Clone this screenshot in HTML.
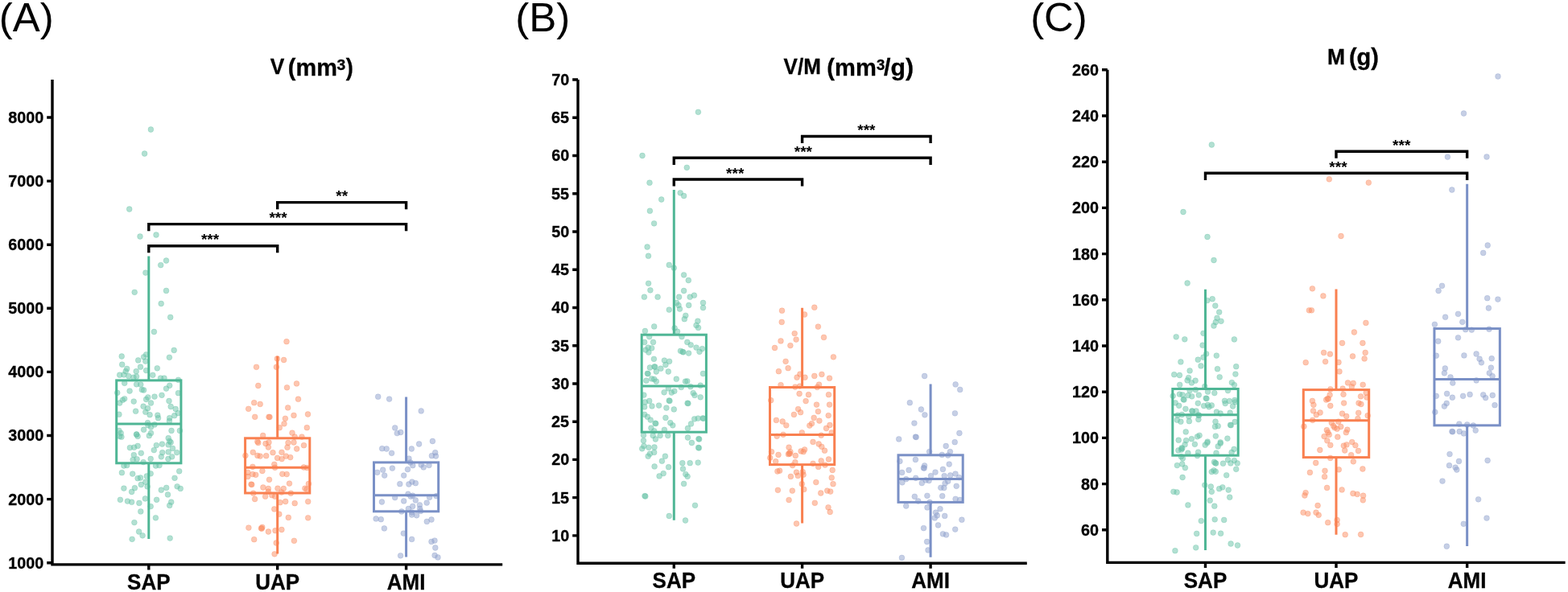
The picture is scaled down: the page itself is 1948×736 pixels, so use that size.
<!DOCTYPE html>
<html lang="en"><head><meta charset="utf-8"><title>Figure</title>
<style>html,body{margin:0;padding:0;background:#fff}body{width:1948px;height:736px;overflow:hidden}svg{display:block}</style>
</head><body>
<svg width="1948" height="736" viewBox="0 0 1948 736" font-family="'Liberation Sans', Arial, Helvetica, sans-serif" font-kerning="none" style="font-kerning:none">
<rect width="1948" height="736" fill="#fff"/>
<g id="panelA">
<g fill="#66c2a5" fill-opacity="0.5" stroke="#66c2a5" stroke-opacity="0.45" stroke-width="0.7">
<circle cx="187.4" cy="161.0" r="3.4"/><circle cx="179.6" cy="191.0" r="3.4"/><circle cx="160.7" cy="260.0" r="3.4"/><circle cx="174.0" cy="294.0" r="3.4"/><circle cx="194.0" cy="292.0" r="3.4"/><circle cx="206.5" cy="324.0" r="3.4"/><circle cx="199.7" cy="329.6" r="3.4"/><circle cx="180.9" cy="339.1" r="3.4"/><circle cx="167.2" cy="363.3" r="3.4"/><circle cx="206.5" cy="361.4" r="3.4"/><circle cx="200.2" cy="377.5" r="3.4"/><circle cx="211.7" cy="394.4" r="3.4"/><circle cx="191.4" cy="412.5" r="3.4"/><circle cx="216.2" cy="435.4" r="3.4"/><circle cx="210.4" cy="444.3" r="3.4"/><circle cx="151.2" cy="443.0" r="3.4"/><circle cx="151.7" cy="453.2" r="3.4"/><circle cx="171.7" cy="447.9" r="3.4"/><circle cx="178.6" cy="443.8" r="3.4"/><circle cx="181.6" cy="440.8" r="3.4"/><circle cx="180.8" cy="449.1" r="3.4"/><circle cx="174.5" cy="456.2" r="3.4"/><circle cx="195.3" cy="457.8" r="3.4"/><circle cx="157.7" cy="458.4" r="3.4"/><circle cx="156.2" cy="461.7" r="3.4"/><circle cx="169.2" cy="461.7" r="3.4"/><circle cx="181.6" cy="460.6" r="3.4"/><circle cx="148.7" cy="466.2" r="3.4"/><circle cx="153.9" cy="465.9" r="3.4"/><circle cx="159.9" cy="467.7" r="3.4"/><circle cx="165.9" cy="469.2" r="3.4"/><circle cx="169.6" cy="468.1" r="3.4"/><circle cx="189.8" cy="466.3" r="3.4"/><circle cx="199.5" cy="470.1" r="3.4"/><circle cx="204.0" cy="470.1" r="3.4"/><circle cx="221.5" cy="472.3" r="3.4"/><circle cx="154.7" cy="476.3" r="3.4"/><circle cx="169.6" cy="477.8" r="3.4"/><circle cx="174.8" cy="478.1" r="3.4"/><circle cx="176.3" cy="484.6" r="3.4"/><circle cx="178.6" cy="485.0" r="3.4"/><circle cx="161.1" cy="486.1" r="3.4"/><circle cx="145.7" cy="488.3" r="3.4"/><circle cx="210.7" cy="479.3" r="3.4"/><circle cx="206.5" cy="483.1" r="3.4"/><circle cx="221.5" cy="488.7" r="3.4"/><circle cx="201.0" cy="491.3" r="3.4"/><circle cx="192.0" cy="493.1" r="3.4"/><circle cx="183.8" cy="494.0" r="3.4"/><circle cx="181.6" cy="496.5" r="3.4"/><circle cx="154.7" cy="495.8" r="3.4"/><circle cx="152.4" cy="497.3" r="3.4"/><circle cx="148.7" cy="501.0" r="3.4"/><circle cx="166.2" cy="499.1" r="3.4"/><circle cx="187.5" cy="501.0" r="3.4"/><circle cx="210.0" cy="498.5" r="3.4"/><circle cx="178.1" cy="505.2" r="3.4"/><circle cx="183.5" cy="507.7" r="3.4"/><circle cx="212.2" cy="505.5" r="3.4"/><circle cx="218.2" cy="508.5" r="3.4"/><circle cx="180.8" cy="512.2" r="3.4"/><circle cx="168.6" cy="511.2" r="3.4"/><circle cx="186.1" cy="515.7" r="3.4"/><circle cx="147.9" cy="515.2" r="3.4"/><circle cx="195.8" cy="516.2" r="3.4"/><circle cx="196.5" cy="519.7" r="3.4"/><circle cx="221.2" cy="513.7" r="3.4"/><circle cx="216.7" cy="516.7" r="3.4"/><circle cx="210.7" cy="519.7" r="3.4"/><circle cx="210.4" cy="523.4" r="3.4"/><circle cx="183.5" cy="525.7" r="3.4"/><circle cx="183.8" cy="528.7" r="3.4"/><circle cx="192.0" cy="527.9" r="3.4"/><circle cx="187.5" cy="530.9" r="3.4"/><circle cx="178.6" cy="534.2" r="3.4"/><circle cx="147.9" cy="535.4" r="3.4"/><circle cx="150.2" cy="538.4" r="3.4"/><circle cx="213.0" cy="535.4" r="3.4"/><circle cx="223.4" cy="535.4" r="3.4"/><circle cx="169.6" cy="539.9" r="3.4"/><circle cx="187.5" cy="538.4" r="3.4"/><circle cx="148.7" cy="542.4" r="3.4"/><circle cx="150.9" cy="543.2" r="3.4"/><circle cx="169.6" cy="540.2" r="3.4"/><circle cx="171.1" cy="542.4" r="3.4"/><circle cx="185.3" cy="541.7" r="3.4"/><circle cx="209.2" cy="544.7" r="3.4"/><circle cx="210.7" cy="548.4" r="3.4"/><circle cx="212.2" cy="549.9" r="3.4"/><circle cx="209.2" cy="552.9" r="3.4"/><circle cx="201.4" cy="552.1" r="3.4"/><circle cx="194.3" cy="553.6" r="3.4"/><circle cx="171.1" cy="554.4" r="3.4"/><circle cx="166.6" cy="556.2" r="3.4"/><circle cx="161.4" cy="556.6" r="3.4"/><circle cx="214.5" cy="557.4" r="3.4"/><circle cx="191.3" cy="559.6" r="3.4"/><circle cx="201.7" cy="562.6" r="3.4"/><circle cx="209.2" cy="561.9" r="3.4"/><circle cx="219.7" cy="562.6" r="3.4"/><circle cx="175.3" cy="563.3" r="3.4"/><circle cx="166.3" cy="565.6" r="3.4"/><circle cx="200.3" cy="567.8" r="3.4"/><circle cx="213.7" cy="567.8" r="3.4"/><circle cx="208.9" cy="570.5" r="3.4"/><circle cx="165.1" cy="571.6" r="3.4"/><circle cx="170.1" cy="570.8" r="3.4"/><circle cx="187.2" cy="570.5" r="3.4"/><circle cx="178.1" cy="574.6" r="3.4"/><circle cx="153.9" cy="579.0" r="3.4"/><circle cx="157.7" cy="578.6" r="3.4"/><circle cx="193.5" cy="579.0" r="3.4"/><circle cx="198.0" cy="578.6" r="3.4"/><circle cx="151.4" cy="587.7" r="3.4"/><circle cx="164.7" cy="589.1" r="3.4"/><circle cx="222.7" cy="585.8" r="3.4"/><circle cx="187.2" cy="588.8" r="3.4"/><circle cx="182.3" cy="592.0" r="3.4"/><circle cx="171.1" cy="594.7" r="3.4"/><circle cx="174.5" cy="594.0" r="3.4"/><circle cx="217.0" cy="594.3" r="3.4"/><circle cx="180.8" cy="599.2" r="3.4"/><circle cx="175.3" cy="602.5" r="3.4"/><circle cx="183.1" cy="604.9" r="3.4"/><circle cx="153.9" cy="607.1" r="3.4"/><circle cx="167.4" cy="606.7" r="3.4"/><circle cx="163.6" cy="611.5" r="3.4"/><circle cx="220.1" cy="604.8" r="3.4"/><circle cx="224.2" cy="607.4" r="3.4"/><circle cx="206.7" cy="606.4" r="3.4"/><circle cx="200.3" cy="609.2" r="3.4"/><circle cx="208.5" cy="614.9" r="3.4"/><circle cx="149.4" cy="621.3" r="3.4"/><circle cx="158.4" cy="623.1" r="3.4"/><circle cx="163.6" cy="624.2" r="3.4"/><circle cx="172.9" cy="625.4" r="3.4"/><circle cx="180.4" cy="619.9" r="3.4"/><circle cx="194.6" cy="621.3" r="3.4"/><circle cx="212.7" cy="624.2" r="3.4"/><circle cx="210.7" cy="628.4" r="3.4"/><circle cx="187.2" cy="629.6" r="3.4"/><circle cx="174.8" cy="635.9" r="3.4"/><circle cx="193.4" cy="643.8" r="3.4"/><circle cx="166.9" cy="649.6" r="3.4"/><circle cx="172.6" cy="661.0" r="3.4"/><circle cx="177.1" cy="665.8" r="3.4"/><circle cx="164.1" cy="670.3" r="3.4"/><circle cx="211.2" cy="669.1" r="3.4"/>
</g>
<g fill="#fc8d62" fill-opacity="0.5" stroke="#fc8d62" stroke-opacity="0.45" stroke-width="0.7">
<circle cx="356.0" cy="424.7" r="3.4"/><circle cx="344.4" cy="445.9" r="3.4"/><circle cx="352.6" cy="447.5" r="3.4"/><circle cx="318.5" cy="456.3" r="3.4"/><circle cx="343.4" cy="456.3" r="3.4"/><circle cx="320.8" cy="479.5" r="3.4"/><circle cx="368.5" cy="476.9" r="3.4"/><circle cx="356.5" cy="481.8" r="3.4"/><circle cx="370.5" cy="496.2" r="3.4"/><circle cx="315.7" cy="500.7" r="3.4"/><circle cx="323.2" cy="502.4" r="3.4"/><circle cx="308.7" cy="508.3" r="3.4"/><circle cx="357.7" cy="506.9" r="3.4"/><circle cx="316.7" cy="518.3" r="3.4"/><circle cx="334.0" cy="518.3" r="3.4"/><circle cx="335.0" cy="518.5" r="3.4"/><circle cx="365.0" cy="516.4" r="3.4"/><circle cx="382.5" cy="515.0" r="3.4"/><circle cx="354.4" cy="520.3" r="3.4"/><circle cx="353.0" cy="526.8" r="3.4"/><circle cx="347.3" cy="531.7" r="3.4"/><circle cx="381.3" cy="531.7" r="3.4"/><circle cx="363.0" cy="538.2" r="3.4"/><circle cx="326.7" cy="541.5" r="3.4"/><circle cx="366.2" cy="543.1" r="3.4"/><circle cx="375.0" cy="543.1" r="3.4"/><circle cx="319.8" cy="549.0" r="3.4"/><circle cx="320.8" cy="550.5" r="3.4"/><circle cx="330.0" cy="551.5" r="3.4"/><circle cx="334.0" cy="549.9" r="3.4"/><circle cx="333.4" cy="556.0" r="3.4"/><circle cx="358.0" cy="550.5" r="3.4"/><circle cx="365.0" cy="550.0" r="3.4"/><circle cx="377.5" cy="553.7" r="3.4"/><circle cx="357.0" cy="556.2" r="3.4"/><circle cx="368.7" cy="558.0" r="3.4"/><circle cx="314.3" cy="562.3" r="3.4"/><circle cx="339.0" cy="562.7" r="3.4"/><circle cx="350.0" cy="562.3" r="3.4"/><circle cx="304.9" cy="566.4" r="3.4"/><circle cx="319.9" cy="566.4" r="3.4"/><circle cx="323.2" cy="567.1" r="3.4"/><circle cx="330.7" cy="566.7" r="3.4"/><circle cx="344.6" cy="569.4" r="3.4"/><circle cx="350.1" cy="570.6" r="3.4"/><circle cx="355.3" cy="567.1" r="3.4"/><circle cx="360.7" cy="568.6" r="3.4"/><circle cx="340.8" cy="577.3" r="3.4"/><circle cx="341.6" cy="581.3" r="3.4"/><circle cx="313.9" cy="580.3" r="3.4"/><circle cx="377.4" cy="581.0" r="3.4"/><circle cx="381.5" cy="581.6" r="3.4"/><circle cx="307.9" cy="587.3" r="3.4"/><circle cx="313.9" cy="589.6" r="3.4"/><circle cx="317.7" cy="590.3" r="3.4"/><circle cx="325.9" cy="585.5" r="3.4"/><circle cx="307.9" cy="592.5" r="3.4"/><circle cx="350.8" cy="589.3" r="3.4"/><circle cx="356.2" cy="589.6" r="3.4"/><circle cx="334.5" cy="596.3" r="3.4"/><circle cx="359.5" cy="601.1" r="3.4"/><circle cx="383.4" cy="601.5" r="3.4"/><circle cx="326.9" cy="606.0" r="3.4"/><circle cx="333.3" cy="607.5" r="3.4"/><circle cx="345.0" cy="607.2" r="3.4"/><circle cx="352.3" cy="607.5" r="3.4"/><circle cx="378.9" cy="607.2" r="3.4"/><circle cx="381.2" cy="608.2" r="3.4"/><circle cx="314.7" cy="613.2" r="3.4"/><circle cx="329.6" cy="617.2" r="3.4"/><circle cx="333.3" cy="611.2" r="3.4"/><circle cx="337.8" cy="615.7" r="3.4"/><circle cx="341.6" cy="617.2" r="3.4"/><circle cx="349.8" cy="612.0" r="3.4"/><circle cx="361.3" cy="613.2" r="3.4"/><circle cx="316.6" cy="620.5" r="3.4"/><circle cx="348.0" cy="624.7" r="3.4"/><circle cx="354.7" cy="623.5" r="3.4"/><circle cx="366.2" cy="625.7" r="3.4"/><circle cx="382.7" cy="623.6" r="3.4"/><circle cx="340.8" cy="632.9" r="3.4"/><circle cx="346.8" cy="639.2" r="3.4"/><circle cx="358.3" cy="643.4" r="3.4"/><circle cx="382.7" cy="643.8" r="3.4"/><circle cx="312.0" cy="602.1" r="3.4"/><circle cx="312.8" cy="602.5" r="3.4"/><circle cx="308.9" cy="656.1" r="3.4"/><circle cx="325.8" cy="655.5" r="3.4"/><circle cx="333.4" cy="661.0" r="3.4"/><circle cx="342.0" cy="659.7" r="3.4"/><circle cx="349.9" cy="658.5" r="3.4"/><circle cx="315.7" cy="670.7" r="3.4"/><circle cx="343.2" cy="675.0" r="3.4"/><circle cx="365.4" cy="672.3" r="3.4"/><circle cx="341.1" cy="688.8" r="3.4"/><circle cx="324.4" cy="656.8" r="3.4"/><circle cx="325.2" cy="657.2" r="3.4"/>
</g>
<g fill="#8da0cb" fill-opacity="0.5" stroke="#8da0cb" stroke-opacity="0.45" stroke-width="0.7">
<circle cx="469.7" cy="493.2" r="3.4"/><circle cx="483.6" cy="496.1" r="3.4"/><circle cx="523.2" cy="510.9" r="3.4"/><circle cx="490.7" cy="531.9" r="3.4"/><circle cx="493.3" cy="538.6" r="3.4"/><circle cx="497.8" cy="537.5" r="3.4"/><circle cx="537.4" cy="548.5" r="3.4"/><circle cx="520.6" cy="552.0" r="3.4"/><circle cx="474.7" cy="557.7" r="3.4"/><circle cx="480.2" cy="558.0" r="3.4"/><circle cx="511.3" cy="558.0" r="3.4"/><circle cx="486.6" cy="563.3" r="3.4"/><circle cx="540.7" cy="562.7" r="3.4"/><circle cx="536.4" cy="566.7" r="3.4"/><circle cx="541.5" cy="567.0" r="3.4"/><circle cx="508.0" cy="570.1" r="3.4"/><circle cx="509.8" cy="574.9" r="3.4"/><circle cx="512.8" cy="578.7" r="3.4"/><circle cx="523.2" cy="577.9" r="3.4"/><circle cx="526.2" cy="580.9" r="3.4"/><circle cx="533.0" cy="578.4" r="3.4"/><circle cx="487.4" cy="582.1" r="3.4"/><circle cx="475.7" cy="584.2" r="3.4"/><circle cx="506.5" cy="583.6" r="3.4"/><circle cx="468.7" cy="587.3" r="3.4"/><circle cx="477.7" cy="591.1" r="3.4"/><circle cx="501.7" cy="591.1" r="3.4"/><circle cx="496.8" cy="601.7" r="3.4"/><circle cx="507.9" cy="602.0" r="3.4"/><circle cx="511.9" cy="599.1" r="3.4"/><circle cx="516.3" cy="600.7" r="3.4"/><circle cx="507.0" cy="614.2" r="3.4"/><circle cx="510.3" cy="617.2" r="3.4"/><circle cx="512.7" cy="616.2" r="3.4"/><circle cx="490.7" cy="618.6" r="3.4"/><circle cx="533.6" cy="618.3" r="3.4"/><circle cx="542.1" cy="616.7" r="3.4"/><circle cx="474.4" cy="624.0" r="3.4"/><circle cx="501.7" cy="622.9" r="3.4"/><circle cx="516.3" cy="621.9" r="3.4"/><circle cx="530.2" cy="625.1" r="3.4"/><circle cx="521.4" cy="627.8" r="3.4"/><circle cx="512.7" cy="629.4" r="3.4"/><circle cx="507.4" cy="632.5" r="3.4"/><circle cx="521.7" cy="632.5" r="3.4"/><circle cx="498.9" cy="635.9" r="3.4"/><circle cx="511.6" cy="637.0" r="3.4"/><circle cx="522.5" cy="635.4" r="3.4"/><circle cx="511.6" cy="640.0" r="3.4"/><circle cx="517.6" cy="640.8" r="3.4"/><circle cx="467.1" cy="644.9" r="3.4"/><circle cx="473.3" cy="645.7" r="3.4"/><circle cx="536.0" cy="646.0" r="3.4"/><circle cx="530.3" cy="648.4" r="3.4"/><circle cx="477.4" cy="656.9" r="3.4"/><circle cx="501.3" cy="663.1" r="3.4"/><circle cx="511.6" cy="670.4" r="3.4"/><circle cx="536.0" cy="673.4" r="3.4"/><circle cx="540.0" cy="672.1" r="3.4"/><circle cx="540.8" cy="681.0" r="3.4"/><circle cx="540.1" cy="690.5" r="3.4"/><circle cx="544.0" cy="692.9" r="3.4"/><circle cx="497.6" cy="690.8" r="3.4"/>
</g>
<g stroke="#4fb695" stroke-width="3.0" fill="none">
<path d="M184.8 318.4V472.9M184.8 575.8V670.0M144.70000000000002 527.0H224.9"/>
<rect x="144.70000000000002" y="472.9" width="80.2" height="102.90"/>
</g>
<g stroke="#f98050" stroke-width="3.0" fill="none">
<path d="M344.7 442.8V544.8M344.7 613.0V688.5M304.59999999999997 581.2H384.8"/>
<rect x="304.59999999999997" y="544.8" width="80.2" height="68.20"/>
</g>
<g stroke="#7a90c6" stroke-width="3.0" fill="none">
<path d="M504.6 493.5V574.9M504.6 635.8V692.5M464.5 615.7H544.7"/>
<rect x="464.5" y="574.9" width="80.2" height="60.90"/>
</g>
<g stroke="#000" stroke-width="3.4" fill="none">
<path d="M65.0 99V701.9H624.2M58.2 146.0H65.0M58.2 225.1H65.0M58.2 304.2H65.0M58.2 383.3H65.0M58.2 462.4H65.0M58.2 541.5H65.0M58.2 620.6H65.0M58.2 699.7H65.0M184.8 701.9V708.4M344.7 701.9V708.4M504.6 701.9V708.4"/>
</g>
<g fill="#000">
<text transform="translate(10.26 152.90) scale(1.0000 1.04)" font-size="19.8" font-weight="bold" stroke="#000" stroke-width="0.3">8000</text>
<text transform="translate(10.26 232.00) scale(1.0000 1.04)" font-size="19.8" font-weight="bold" stroke="#000" stroke-width="0.3">7000</text>
<text transform="translate(10.26 311.10) scale(1.0000 1.04)" font-size="19.8" font-weight="bold" stroke="#000" stroke-width="0.3">6000</text>
<text transform="translate(10.26 390.20) scale(1.0000 1.04)" font-size="19.8" font-weight="bold" stroke="#000" stroke-width="0.3">5000</text>
<text transform="translate(10.26 469.30) scale(1.0000 1.04)" font-size="19.8" font-weight="bold" stroke="#000" stroke-width="0.3">4000</text>
<text transform="translate(10.26 548.40) scale(1.0000 1.04)" font-size="19.8" font-weight="bold" stroke="#000" stroke-width="0.3">3000</text>
<text transform="translate(10.26 627.50) scale(1.0000 1.04)" font-size="19.8" font-weight="bold" stroke="#000" stroke-width="0.3">2000</text>
<text transform="translate(10.26 706.60) scale(1.0000 1.04)" font-size="19.8" font-weight="bold" stroke="#000" stroke-width="0.3">1000</text>
<text transform="translate(158.07 732.70) scale(1.0000 1.04)" font-size="26.0" font-weight="bold" stroke="#000" stroke-width="0.3">SAP</text>
<text transform="translate(317.25 732.70) scale(1.0000 1.04)" font-size="26.0" font-weight="bold" stroke="#000" stroke-width="0.3">UAP</text>
<text transform="translate(480.77 732.70) scale(1.0000 1.04)" font-size="26.0" font-weight="bold" stroke="#000" stroke-width="0.3">AMI</text>
<text transform="translate(335.72 92.00) scale(1.0048 1.04)" font-size="26.2" font-weight="bold" stroke="#000" stroke-width="0.3">V</text>
<text transform="translate(357.86 93.70) scale(0.9816 1.0)" font-size="29.5" font-weight="bold" stroke="#000" stroke-width="0.3">(mm</text>
<text transform="translate(418.56 86.60) scale(1.0496 1.04)" font-size="18.4" font-weight="bold" stroke="#000" stroke-width="0.3">3</text>
<text transform="translate(429.77 93.70) scale(0.9248 1.0)" font-size="29.5" font-weight="bold" stroke="#000" stroke-width="0.3">)</text>
<text transform="translate(-1.16 38.70) scale(1.0398 1.03)" font-size="49.0" font-weight="normal">(A)</text>
</g>
<g stroke="#000" stroke-width="3.4" fill="none">
<path d="M344.7 260.2V251.6H504.6V260.2M184.8 287.25V278.65H504.6V287.25M184.8 314.3V305.7H344.7V314.3" stroke-linejoin="miter"/>
</g>
<g fill="#000">
<text transform="translate(417.25 250.30) scale(1.0000 1.0)" font-size="19.1" font-weight="bold">**</text>
<text transform="translate(334.43 277.35) scale(1.0000 1.0)" font-size="19.1" font-weight="bold">***</text>
<text transform="translate(249.93 304.40) scale(1.0000 1.0)" font-size="19.1" font-weight="bold">***</text>
</g>
</g>
<g id="panelB">
<g fill="#66c2a5" fill-opacity="0.5" stroke="#66c2a5" stroke-opacity="0.45" stroke-width="0.7">
<circle cx="867.4" cy="139.3" r="3.4"/><circle cx="798.0" cy="193.5" r="3.4"/><circle cx="853.3" cy="208.3" r="3.4"/><circle cx="807.0" cy="227.2" r="3.4"/><circle cx="845.2" cy="239.8" r="3.4"/><circle cx="849.6" cy="243.5" r="3.4"/><circle cx="821.7" cy="248.0" r="3.4"/><circle cx="807.4" cy="262.2" r="3.4"/><circle cx="812.6" cy="277.8" r="3.4"/><circle cx="804.1" cy="307.0" r="3.4"/><circle cx="805.5" cy="318.2" r="3.4"/><circle cx="831.3" cy="329.4" r="3.4"/><circle cx="837.3" cy="333.1" r="3.4"/><circle cx="849.6" cy="341.8" r="3.4"/><circle cx="855.3" cy="348.5" r="3.4"/><circle cx="805.6" cy="352.3" r="3.4"/><circle cx="807.9" cy="360.8" r="3.4"/><circle cx="849.6" cy="361.5" r="3.4"/><circle cx="800.4" cy="369.2" r="3.4"/><circle cx="817.1" cy="369.2" r="3.4"/><circle cx="843.6" cy="369.2" r="3.4"/><circle cx="857.2" cy="369.2" r="3.4"/><circle cx="862.4" cy="367.2" r="3.4"/><circle cx="873.5" cy="376.5" r="3.4"/><circle cx="873.5" cy="382.6" r="3.4"/><circle cx="840.6" cy="376.5" r="3.4"/><circle cx="843.0" cy="379.5" r="3.4"/><circle cx="855.7" cy="379.5" r="3.4"/><circle cx="844.5" cy="384.1" r="3.4"/><circle cx="831.3" cy="385.1" r="3.4"/><circle cx="851.8" cy="392.3" r="3.4"/><circle cx="850.3" cy="396.7" r="3.4"/><circle cx="866.9" cy="399.2" r="3.4"/><circle cx="865.0" cy="404.4" r="3.4"/><circle cx="867.5" cy="407.4" r="3.4"/><circle cx="812.7" cy="405.9" r="3.4"/><circle cx="838.1" cy="407.9" r="3.4"/><circle cx="841.5" cy="412.2" r="3.4"/><circle cx="801.4" cy="411.5" r="3.4"/><circle cx="806.7" cy="418.6" r="3.4"/><circle cx="847.0" cy="418.6" r="3.4"/><circle cx="800.7" cy="425.4" r="3.4"/><circle cx="811.5" cy="425.4" r="3.4"/><circle cx="853.8" cy="425.4" r="3.4"/><circle cx="858.2" cy="428.8" r="3.4"/><circle cx="805.2" cy="432.1" r="3.4"/><circle cx="809.7" cy="432.8" r="3.4"/><circle cx="802.2" cy="435.1" r="3.4"/><circle cx="805.9" cy="438.1" r="3.4"/><circle cx="865.0" cy="432.1" r="3.4"/><circle cx="872.4" cy="433.6" r="3.4"/><circle cx="869.0" cy="437.3" r="3.4"/><circle cx="845.5" cy="436.3" r="3.4"/><circle cx="855.6" cy="439.1" r="3.4"/><circle cx="812.4" cy="446.3" r="3.4"/><circle cx="825.4" cy="448.1" r="3.4"/><circle cx="831.6" cy="449.3" r="3.4"/><circle cx="826.9" cy="453.5" r="3.4"/><circle cx="807.4" cy="457.0" r="3.4"/><circle cx="820.9" cy="458.2" r="3.4"/><circle cx="815.3" cy="462.0" r="3.4"/><circle cx="830.3" cy="462.0" r="3.4"/><circle cx="873.5" cy="464.5" r="3.4"/><circle cx="802.9" cy="473.2" r="3.4"/><circle cx="809.7" cy="470.9" r="3.4"/><circle cx="812.7" cy="471.4" r="3.4"/><circle cx="815.3" cy="474.2" r="3.4"/><circle cx="840.3" cy="471.2" r="3.4"/><circle cx="851.5" cy="474.2" r="3.4"/><circle cx="853.8" cy="473.9" r="3.4"/><circle cx="846.3" cy="481.4" r="3.4"/><circle cx="857.9" cy="480.7" r="3.4"/><circle cx="870.2" cy="479.2" r="3.4"/><circle cx="830.3" cy="482.9" r="3.4"/><circle cx="825.1" cy="487.8" r="3.4"/><circle cx="834.3" cy="488.1" r="3.4"/><circle cx="837.8" cy="486.3" r="3.4"/><circle cx="799.9" cy="491.1" r="3.4"/><circle cx="861.2" cy="488.6" r="3.4"/><circle cx="863.0" cy="491.4" r="3.4"/><circle cx="870.2" cy="493.8" r="3.4"/><circle cx="848.1" cy="437.4" r="3.4"/><circle cx="848.9" cy="437.8" r="3.4"/><circle cx="813.0" cy="455.8" r="3.4"/><circle cx="813.8" cy="456.2" r="3.4"/><circle cx="804.3" cy="464.3" r="3.4"/><circle cx="805.1" cy="464.7" r="3.4"/><circle cx="806.7" cy="498.5" r="3.4"/><circle cx="801.4" cy="499.9" r="3.4"/><circle cx="800.7" cy="505.9" r="3.4"/><circle cx="810.0" cy="504.9" r="3.4"/><circle cx="818.6" cy="504.1" r="3.4"/><circle cx="827.9" cy="507.1" r="3.4"/><circle cx="837.3" cy="508.9" r="3.4"/><circle cx="800.7" cy="515.3" r="3.4"/><circle cx="804.4" cy="518.2" r="3.4"/><circle cx="808.2" cy="522.1" r="3.4"/><circle cx="826.9" cy="519.4" r="3.4"/><circle cx="832.8" cy="525.7" r="3.4"/><circle cx="835.8" cy="528.8" r="3.4"/><circle cx="862.7" cy="520.9" r="3.4"/><circle cx="867.2" cy="520.1" r="3.4"/><circle cx="858.5" cy="526.9" r="3.4"/><circle cx="854.5" cy="532.5" r="3.4"/><circle cx="808.9" cy="532.1" r="3.4"/><circle cx="812.7" cy="535.8" r="3.4"/><circle cx="825.4" cy="534.3" r="3.4"/><circle cx="799.5" cy="541.1" r="3.4"/><circle cx="811.2" cy="541.5" r="3.4"/><circle cx="820.1" cy="541.5" r="3.4"/><circle cx="829.8" cy="541.5" r="3.4"/><circle cx="814.4" cy="546.0" r="3.4"/><circle cx="799.5" cy="547.8" r="3.4"/><circle cx="854.5" cy="544.0" r="3.4"/><circle cx="859.4" cy="550.5" r="3.4"/><circle cx="799.9" cy="554.5" r="3.4"/><circle cx="797.7" cy="557.8" r="3.4"/><circle cx="805.9" cy="556.3" r="3.4"/><circle cx="813.0" cy="556.0" r="3.4"/><circle cx="812.7" cy="562.4" r="3.4"/><circle cx="807.4" cy="564.2" r="3.4"/><circle cx="805.2" cy="567.2" r="3.4"/><circle cx="826.4" cy="567.2" r="3.4"/><circle cx="822.4" cy="573.2" r="3.4"/><circle cx="847.8" cy="575.7" r="3.4"/><circle cx="857.2" cy="575.7" r="3.4"/><circle cx="867.2" cy="575.1" r="3.4"/><circle cx="813.1" cy="579.9" r="3.4"/><circle cx="830.6" cy="580.7" r="3.4"/><circle cx="848.5" cy="582.9" r="3.4"/><circle cx="824.2" cy="588.6" r="3.4"/><circle cx="819.1" cy="591.9" r="3.4"/><circle cx="851.8" cy="589.6" r="3.4"/><circle cx="854.1" cy="592.3" r="3.4"/><circle cx="831.2" cy="498.0" r="3.4"/><circle cx="832.0" cy="498.4" r="3.4"/><circle cx="854.1" cy="501.2" r="3.4"/><circle cx="854.9" cy="501.6" r="3.4"/><circle cx="814.0" cy="526.2" r="3.4"/><circle cx="814.8" cy="526.6" r="3.4"/><circle cx="873.1" cy="519.9" r="3.4"/><circle cx="873.9" cy="520.3" r="3.4"/><circle cx="867.9" cy="545.6" r="3.4"/><circle cx="868.7" cy="546.0" r="3.4"/><circle cx="867.6" cy="556.5" r="3.4"/><circle cx="868.4" cy="556.9" r="3.4"/><circle cx="849.6" cy="601.4" r="3.4"/><circle cx="863.5" cy="628.3" r="3.4"/><circle cx="831.3" cy="641.5" r="3.4"/><circle cx="851.5" cy="647.0" r="3.4"/><circle cx="801.0" cy="616.6" r="3.4"/><circle cx="801.8" cy="617.0" r="3.4"/>
</g>
<g fill="#fc8d62" fill-opacity="0.5" stroke="#fc8d62" stroke-opacity="0.45" stroke-width="0.7">
<circle cx="971.5" cy="386.2" r="3.4"/><circle cx="1011.8" cy="382.2" r="3.4"/><circle cx="999.6" cy="391.0" r="3.4"/><circle cx="971.2" cy="400.4" r="3.4"/><circle cx="1016.4" cy="406.1" r="3.4"/><circle cx="987.2" cy="414.6" r="3.4"/><circle cx="1023.5" cy="419.4" r="3.4"/><circle cx="989.1" cy="422.1" r="3.4"/><circle cx="970.0" cy="423.9" r="3.4"/><circle cx="981.9" cy="429.6" r="3.4"/><circle cx="962.5" cy="432.5" r="3.4"/><circle cx="1035.4" cy="443.8" r="3.4"/><circle cx="976.1" cy="449.3" r="3.4"/><circle cx="979.1" cy="457.7" r="3.4"/><circle cx="967.4" cy="461.7" r="3.4"/><circle cx="993.9" cy="465.1" r="3.4"/><circle cx="990.1" cy="469.2" r="3.4"/><circle cx="1000.0" cy="469.2" r="3.4"/><circle cx="1011.8" cy="467.4" r="3.4"/><circle cx="1020.9" cy="465.4" r="3.4"/><circle cx="1030.5" cy="470.2" r="3.4"/><circle cx="970.0" cy="478.6" r="3.4"/><circle cx="987.9" cy="481.1" r="3.4"/><circle cx="993.6" cy="480.1" r="3.4"/><circle cx="1017.5" cy="478.1" r="3.4"/><circle cx="1015.3" cy="481.4" r="3.4"/><circle cx="993.1" cy="489.5" r="3.4"/><circle cx="1004.5" cy="490.7" r="3.4"/><circle cx="1029.5" cy="490.7" r="3.4"/><circle cx="957.7" cy="497.7" r="3.4"/><circle cx="1001.1" cy="498.6" r="3.4"/><circle cx="1014.5" cy="503.1" r="3.4"/><circle cx="1030.5" cy="503.1" r="3.4"/><circle cx="991.6" cy="508.6" r="3.4"/><circle cx="994.6" cy="512.7" r="3.4"/><circle cx="986.4" cy="515.4" r="3.4"/><circle cx="1016.4" cy="511.6" r="3.4"/><circle cx="1029.2" cy="516.6" r="3.4"/><circle cx="1011.2" cy="519.4" r="3.4"/><circle cx="1017.9" cy="523.1" r="3.4"/><circle cx="964.4" cy="522.4" r="3.4"/><circle cx="972.2" cy="524.0" r="3.4"/><circle cx="976.8" cy="528.8" r="3.4"/><circle cx="1008.5" cy="526.6" r="3.4"/><circle cx="1005.8" cy="529.1" r="3.4"/><circle cx="1030.9" cy="528.5" r="3.4"/><circle cx="1026.5" cy="532.5" r="3.4"/><circle cx="996.3" cy="537.8" r="3.4"/><circle cx="1033.2" cy="537.8" r="3.4"/><circle cx="973.0" cy="540.3" r="3.4"/><circle cx="965.2" cy="542.3" r="3.4"/><circle cx="1020.2" cy="541.2" r="3.4"/><circle cx="1010.0" cy="549.4" r="3.4"/><circle cx="1017.2" cy="552.0" r="3.4"/><circle cx="1020.8" cy="555.3" r="3.4"/><circle cx="1024.5" cy="560.2" r="3.4"/><circle cx="980.1" cy="556.2" r="3.4"/><circle cx="981.9" cy="561.7" r="3.4"/><circle cx="979.4" cy="564.7" r="3.4"/><circle cx="988.3" cy="566.5" r="3.4"/><circle cx="995.1" cy="560.9" r="3.4"/><circle cx="998.1" cy="561.7" r="3.4"/><circle cx="999.6" cy="559.0" r="3.4"/><circle cx="958.5" cy="561.7" r="3.4"/><circle cx="967.0" cy="565.4" r="3.4"/><circle cx="956.7" cy="569.2" r="3.4"/><circle cx="963.7" cy="573.7" r="3.4"/><circle cx="1029.5" cy="571.0" r="3.4"/><circle cx="1020.2" cy="572.9" r="3.4"/><circle cx="987.9" cy="574.7" r="3.4"/><circle cx="1010.0" cy="576.3" r="3.4"/><circle cx="1025.0" cy="578.1" r="3.4"/><circle cx="984.6" cy="578.6" r="3.4"/><circle cx="1016.7" cy="580.4" r="3.4"/><circle cx="980.5" cy="563.7" r="3.4"/><circle cx="981.3" cy="564.1" r="3.4"/><circle cx="965.9" cy="586.0" r="3.4"/><circle cx="968.6" cy="585.2" r="3.4"/><circle cx="1034.2" cy="584.5" r="3.4"/><circle cx="989.4" cy="587.2" r="3.4"/><circle cx="997.3" cy="586.7" r="3.4"/><circle cx="998.1" cy="590.2" r="3.4"/><circle cx="991.3" cy="591.4" r="3.4"/><circle cx="982.4" cy="592.4" r="3.4"/><circle cx="1033.2" cy="593.9" r="3.4"/><circle cx="1013.8" cy="599.6" r="3.4"/><circle cx="1035.0" cy="601.7" r="3.4"/><circle cx="996.3" cy="601.7" r="3.4"/><circle cx="998.8" cy="608.4" r="3.4"/><circle cx="966.4" cy="609.3" r="3.4"/><circle cx="984.3" cy="610.1" r="3.4"/><circle cx="1027.7" cy="610.1" r="3.4"/><circle cx="1031.7" cy="611.1" r="3.4"/><circle cx="1019.7" cy="613.0" r="3.4"/><circle cx="980.1" cy="621.6" r="3.4"/><circle cx="1012.3" cy="625.3" r="3.4"/><circle cx="1029.0" cy="630.8" r="3.4"/><circle cx="1031.2" cy="636.5" r="3.4"/><circle cx="989.5" cy="651.0" r="3.4"/>
</g>
<g fill="#8da0cb" fill-opacity="0.5" stroke="#8da0cb" stroke-opacity="0.45" stroke-width="0.7">
<circle cx="1148.6" cy="467.5" r="3.4"/><circle cx="1187.1" cy="477.9" r="3.4"/><circle cx="1192.7" cy="484.4" r="3.4"/><circle cx="1130.3" cy="500.7" r="3.4"/><circle cx="1144.4" cy="509.0" r="3.4"/><circle cx="1148.9" cy="515.8" r="3.4"/><circle cx="1186.4" cy="513.8" r="3.4"/><circle cx="1135.9" cy="526.1" r="3.4"/><circle cx="1191.9" cy="538.5" r="3.4"/><circle cx="1116.7" cy="545.9" r="3.4"/><circle cx="1186.2" cy="549.7" r="3.4"/><circle cx="1175.2" cy="554.5" r="3.4"/><circle cx="1154.6" cy="561.6" r="3.4"/><circle cx="1180.4" cy="561.6" r="3.4"/><circle cx="1170.3" cy="565.4" r="3.4"/><circle cx="1177.7" cy="566.1" r="3.4"/><circle cx="1137.4" cy="543.1" r="3.4"/><circle cx="1138.2" cy="543.5" r="3.4"/><circle cx="1137.4" cy="571.4" r="3.4"/><circle cx="1117.9" cy="573.4" r="3.4"/><circle cx="1179.2" cy="577.1" r="3.4"/><circle cx="1148.6" cy="578.9" r="3.4"/><circle cx="1129.1" cy="584.4" r="3.4"/><circle cx="1171.4" cy="583.4" r="3.4"/><circle cx="1120.6" cy="587.4" r="3.4"/><circle cx="1162.0" cy="587.1" r="3.4"/><circle cx="1187.0" cy="589.1" r="3.4"/><circle cx="1180.7" cy="590.9" r="3.4"/><circle cx="1173.2" cy="591.6" r="3.4"/><circle cx="1156.5" cy="591.6" r="3.4"/><circle cx="1191.6" cy="593.6" r="3.4"/><circle cx="1137.7" cy="594.3" r="3.4"/><circle cx="1125.7" cy="595.7" r="3.4"/><circle cx="1120.9" cy="599.8" r="3.4"/><circle cx="1145.3" cy="600.6" r="3.4"/><circle cx="1150.1" cy="596.9" r="3.4"/><circle cx="1154.1" cy="597.6" r="3.4"/><circle cx="1177.7" cy="598.3" r="3.4"/><circle cx="1174.0" cy="600.9" r="3.4"/><circle cx="1188.2" cy="604.3" r="3.4"/><circle cx="1168.8" cy="606.3" r="3.4"/><circle cx="1172.8" cy="606.6" r="3.4"/><circle cx="1136.3" cy="617.3" r="3.4"/><circle cx="1151.9" cy="616.3" r="3.4"/><circle cx="1170.7" cy="616.7" r="3.4"/><circle cx="1187.1" cy="620.3" r="3.4"/><circle cx="1192.7" cy="621.5" r="3.4"/><circle cx="1140.7" cy="623.0" r="3.4"/><circle cx="1155.0" cy="624.5" r="3.4"/><circle cx="1125.7" cy="629.0" r="3.4"/><circle cx="1152.0" cy="630.9" r="3.4"/><circle cx="1168.0" cy="632.7" r="3.4"/><circle cx="1162.5" cy="637.2" r="3.4"/><circle cx="1164.3" cy="640.9" r="3.4"/><circle cx="1161.3" cy="643.9" r="3.4"/><circle cx="1173.7" cy="641.4" r="3.4"/><circle cx="1194.9" cy="646.2" r="3.4"/><circle cx="1165.5" cy="652.9" r="3.4"/><circle cx="1147.5" cy="656.6" r="3.4"/><circle cx="1186.7" cy="658.1" r="3.4"/><circle cx="1171.4" cy="663.8" r="3.4"/><circle cx="1175.5" cy="664.9" r="3.4"/><circle cx="1147.4" cy="581.7" r="3.4"/><circle cx="1148.2" cy="582.1" r="3.4"/><circle cx="1151.6" cy="673.5" r="3.4"/><circle cx="1153.0" cy="683.9" r="3.4"/><circle cx="1120.4" cy="693.4" r="3.4"/>
</g>
<g stroke="#4fb695" stroke-width="3.0" fill="none">
<path d="M837.3 236.0V416.2M837.3 537.2V646.7M797.1999999999999 480.1H877.4"/>
<rect x="797.1999999999999" y="416.2" width="80.2" height="121.00"/>
</g>
<g stroke="#f98050" stroke-width="3.0" fill="none">
<path d="M996.6 382.8V481.5M996.6 577.65V650.4M956.5 540.6H1036.7"/>
<rect x="956.5" y="481.5" width="80.2" height="96.15"/>
</g>
<g stroke="#7a90c6" stroke-width="3.0" fill="none">
<path d="M1156.1 477.6V565.8M1156.1 624.4V692.8M1116.0 595.5H1196.1999999999998"/>
<rect x="1116.0" y="565.8" width="80.2" height="58.60"/>
</g>
<g stroke="#000" stroke-width="3.4" fill="none">
<path d="M718.0 99V700.2H1275.8M711.2 99.0H718.0M711.2 146.24H718.0M711.2 193.48H718.0M711.2 240.73H718.0M711.2 287.97H718.0M711.2 335.2H718.0M711.2 382.45H718.0M711.2 429.7H718.0M711.2 476.93H718.0M711.2 524.18H718.0M711.2 571.42H718.0M711.2 618.66H718.0M711.2 665.9H718.0M837.3 700.2V706.7M996.6 700.2V706.7M1156.1 700.2V706.7"/>
</g>
<g fill="#000">
<text transform="translate(685.29 105.90) scale(1.0000 1.04)" font-size="19.8" font-weight="bold" stroke="#000" stroke-width="0.3">70</text>
<text transform="translate(685.03 153.14) scale(1.0000 1.04)" font-size="19.8" font-weight="bold" stroke="#000" stroke-width="0.3">65</text>
<text transform="translate(685.29 200.38) scale(1.0000 1.04)" font-size="19.8" font-weight="bold" stroke="#000" stroke-width="0.3">60</text>
<text transform="translate(685.03 247.63) scale(1.0000 1.04)" font-size="19.8" font-weight="bold" stroke="#000" stroke-width="0.3">55</text>
<text transform="translate(685.29 294.87) scale(1.0000 1.04)" font-size="19.8" font-weight="bold" stroke="#000" stroke-width="0.3">50</text>
<text transform="translate(685.03 342.10) scale(1.0000 1.04)" font-size="19.8" font-weight="bold" stroke="#000" stroke-width="0.3">45</text>
<text transform="translate(685.29 389.35) scale(1.0000 1.04)" font-size="19.8" font-weight="bold" stroke="#000" stroke-width="0.3">40</text>
<text transform="translate(685.03 436.60) scale(1.0000 1.04)" font-size="19.8" font-weight="bold" stroke="#000" stroke-width="0.3">35</text>
<text transform="translate(685.29 483.83) scale(1.0000 1.04)" font-size="19.8" font-weight="bold" stroke="#000" stroke-width="0.3">30</text>
<text transform="translate(685.03 531.08) scale(1.0000 1.04)" font-size="19.8" font-weight="bold" stroke="#000" stroke-width="0.3">25</text>
<text transform="translate(685.29 578.32) scale(1.0000 1.04)" font-size="19.8" font-weight="bold" stroke="#000" stroke-width="0.3">20</text>
<text transform="translate(685.03 625.56) scale(1.0000 1.04)" font-size="19.8" font-weight="bold" stroke="#000" stroke-width="0.3">15</text>
<text transform="translate(685.29 672.80) scale(1.0000 1.04)" font-size="19.8" font-weight="bold" stroke="#000" stroke-width="0.3">10</text>
<text transform="translate(810.57 731.40) scale(1.0000 1.04)" font-size="26.0" font-weight="bold" stroke="#000" stroke-width="0.3">SAP</text>
<text transform="translate(969.15 731.40) scale(1.0000 1.04)" font-size="26.0" font-weight="bold" stroke="#000" stroke-width="0.3">UAP</text>
<text transform="translate(1132.27 731.40) scale(1.0000 1.04)" font-size="26.0" font-weight="bold" stroke="#000" stroke-width="0.3">AMI</text>
<text transform="translate(973.62 92.00) scale(0.9922 1.04)" font-size="26.2" font-weight="bold" stroke="#000" stroke-width="0.3">V/M</text>
<text transform="translate(1027.35 93.80) scale(0.9867 1.0)" font-size="29.5" font-weight="bold" stroke="#000" stroke-width="0.3">(mm</text>
<text transform="translate(1088.88 87.00) scale(1.0059 1.04)" font-size="18.4" font-weight="bold" stroke="#000" stroke-width="0.3">3</text>
<text transform="translate(1098.10 93.80) scale(1.0268 1.0)" font-size="29.5" font-weight="bold" stroke="#000" stroke-width="0.3">/g)</text>
<text transform="translate(640.14 38.70) scale(1.0415 1.03)" font-size="49.0" font-weight="normal">(B)</text>
</g>
<g stroke="#000" stroke-width="3.4" fill="none">
<path d="M996.6 178.1V169.5H1156.1V178.1M837.3 204.9V196.3H1156.1V204.9M837.3 231.6V223.0H996.6V231.6" stroke-linejoin="miter"/>
</g>
<g fill="#000">
<text transform="translate(1065.23 168.20) scale(1.0000 1.0)" font-size="19.1" font-weight="bold">***</text>
<text transform="translate(986.73 195.00) scale(1.0000 1.0)" font-size="19.1" font-weight="bold">***</text>
<text transform="translate(902.03 221.70) scale(1.0000 1.0)" font-size="19.1" font-weight="bold">***</text>
</g>
</g>
<g id="panelC">
<g fill="#66c2a5" fill-opacity="0.5" stroke="#66c2a5" stroke-opacity="0.45" stroke-width="0.7">
<circle cx="1505.3" cy="180.0" r="3.4"/><circle cx="1470.0" cy="263.5" r="3.4"/><circle cx="1500.0" cy="294.5" r="3.4"/><circle cx="1508.0" cy="323.5" r="3.4"/><circle cx="1475.1" cy="352.0" r="3.4"/><circle cx="1506.2" cy="371.7" r="3.4"/><circle cx="1499.8" cy="373.6" r="3.4"/><circle cx="1509.8" cy="380.1" r="3.4"/><circle cx="1514.7" cy="388.1" r="3.4"/><circle cx="1512.0" cy="395.3" r="3.4"/><circle cx="1517.0" cy="399.3" r="3.4"/><circle cx="1510.3" cy="400.5" r="3.4"/><circle cx="1508.0" cy="405.0" r="3.4"/><circle cx="1495.0" cy="414.3" r="3.4"/><circle cx="1461.2" cy="418.8" r="3.4"/><circle cx="1471.8" cy="421.8" r="3.4"/><circle cx="1533.4" cy="421.9" r="3.4"/><circle cx="1494.1" cy="429.2" r="3.4"/><circle cx="1498.6" cy="439.9" r="3.4"/><circle cx="1511.3" cy="442.1" r="3.4"/><circle cx="1495.0" cy="444.2" r="3.4"/><circle cx="1488.3" cy="447.2" r="3.4"/><circle cx="1466.9" cy="449.9" r="3.4"/><circle cx="1492.0" cy="454.9" r="3.4"/><circle cx="1535.7" cy="455.7" r="3.4"/><circle cx="1478.1" cy="460.9" r="3.4"/><circle cx="1512.5" cy="458.7" r="3.4"/><circle cx="1458.7" cy="465.7" r="3.4"/><circle cx="1465.4" cy="466.5" r="3.4"/><circle cx="1534.9" cy="465.1" r="3.4"/><circle cx="1515.2" cy="468.8" r="3.4"/><circle cx="1476.6" cy="469.6" r="3.4"/><circle cx="1475.1" cy="472.9" r="3.4"/><circle cx="1485.1" cy="473.2" r="3.4"/><circle cx="1480.4" cy="475.9" r="3.4"/><circle cx="1465.7" cy="478.4" r="3.4"/><circle cx="1530.4" cy="475.6" r="3.4"/><circle cx="1533.4" cy="478.6" r="3.4"/><circle cx="1496.8" cy="480.4" r="3.4"/><circle cx="1478.1" cy="485.6" r="3.4"/><circle cx="1485.3" cy="484.5" r="3.4"/><circle cx="1500.5" cy="487.1" r="3.4"/><circle cx="1508.8" cy="488.6" r="3.4"/><circle cx="1525.5" cy="485.6" r="3.4"/><circle cx="1457.2" cy="492.3" r="3.4"/><circle cx="1465.4" cy="490.1" r="3.4"/><circle cx="1469.1" cy="490.8" r="3.4"/><circle cx="1475.9" cy="491.6" r="3.4"/><circle cx="1480.7" cy="492.8" r="3.4"/><circle cx="1489.3" cy="491.1" r="3.4"/><circle cx="1460.2" cy="500.8" r="3.4"/><circle cx="1464.7" cy="504.3" r="3.4"/><circle cx="1488.3" cy="501.3" r="3.4"/><circle cx="1495.6" cy="504.6" r="3.4"/><circle cx="1502.0" cy="505.8" r="3.4"/><circle cx="1500.5" cy="503.5" r="3.4"/><circle cx="1505.3" cy="504.0" r="3.4"/><circle cx="1521.5" cy="498.3" r="3.4"/><circle cx="1522.2" cy="501.6" r="3.4"/><circle cx="1527.4" cy="498.6" r="3.4"/><circle cx="1533.9" cy="497.5" r="3.4"/><circle cx="1534.5" cy="499.8" r="3.4"/><circle cx="1531.6" cy="505.0" r="3.4"/><circle cx="1472.9" cy="508.3" r="3.4"/><circle cx="1486.0" cy="511.0" r="3.4"/><circle cx="1511.4" cy="512.2" r="3.4"/><circle cx="1516.2" cy="514.0" r="3.4"/><circle cx="1528.2" cy="513.2" r="3.4"/><circle cx="1463.2" cy="516.2" r="3.4"/><circle cx="1468.4" cy="515.5" r="3.4"/><circle cx="1476.9" cy="517.7" r="3.4"/><circle cx="1488.9" cy="521.5" r="3.4"/><circle cx="1462.4" cy="522.2" r="3.4"/><circle cx="1466.9" cy="524.2" r="3.4"/><circle cx="1477.4" cy="523.7" r="3.4"/><circle cx="1510.0" cy="524.2" r="3.4"/><circle cx="1509.5" cy="530.4" r="3.4"/><circle cx="1513.2" cy="529.7" r="3.4"/><circle cx="1534.2" cy="524.5" r="3.4"/><circle cx="1473.2" cy="536.9" r="3.4"/><circle cx="1490.1" cy="541.3" r="3.4"/><circle cx="1487.5" cy="542.8" r="3.4"/><circle cx="1480.4" cy="545.7" r="3.4"/><circle cx="1510.3" cy="542.1" r="3.4"/><circle cx="1524.9" cy="545.1" r="3.4"/><circle cx="1464.2" cy="547.2" r="3.4"/><circle cx="1473.6" cy="547.6" r="3.4"/><circle cx="1500.2" cy="549.1" r="3.4"/><circle cx="1516.2" cy="549.9" r="3.4"/><circle cx="1498.2" cy="495.1" r="3.4"/><circle cx="1499.0" cy="495.5" r="3.4"/><circle cx="1470.2" cy="496.6" r="3.4"/><circle cx="1471.0" cy="497.0" r="3.4"/><circle cx="1480.7" cy="510.8" r="3.4"/><circle cx="1481.5" cy="511.2" r="3.4"/><circle cx="1488.9" cy="516.0" r="3.4"/><circle cx="1489.7" cy="516.4" r="3.4"/><circle cx="1528.5" cy="528.3" r="3.4"/><circle cx="1529.3" cy="528.7" r="3.4"/><circle cx="1484.4" cy="552.3" r="3.4"/><circle cx="1472.1" cy="552.7" r="3.4"/><circle cx="1497.2" cy="553.2" r="3.4"/><circle cx="1499.8" cy="550.5" r="3.4"/><circle cx="1513.2" cy="554.9" r="3.4"/><circle cx="1516.2" cy="551.2" r="3.4"/><circle cx="1467.7" cy="559.1" r="3.4"/><circle cx="1463.9" cy="559.9" r="3.4"/><circle cx="1533.1" cy="558.4" r="3.4"/><circle cx="1530.1" cy="562.4" r="3.4"/><circle cx="1475.9" cy="563.2" r="3.4"/><circle cx="1488.6" cy="562.1" r="3.4"/><circle cx="1511.0" cy="563.2" r="3.4"/><circle cx="1487.5" cy="566.6" r="3.4"/><circle cx="1467.4" cy="567.7" r="3.4"/><circle cx="1469.4" cy="569.9" r="3.4"/><circle cx="1525.5" cy="571.7" r="3.4"/><circle cx="1533.4" cy="572.6" r="3.4"/><circle cx="1537.2" cy="575.9" r="3.4"/><circle cx="1528.9" cy="575.9" r="3.4"/><circle cx="1519.5" cy="576.2" r="3.4"/><circle cx="1508.5" cy="574.4" r="3.4"/><circle cx="1468.7" cy="576.9" r="3.4"/><circle cx="1462.4" cy="578.6" r="3.4"/><circle cx="1472.4" cy="581.6" r="3.4"/><circle cx="1535.7" cy="583.3" r="3.4"/><circle cx="1505.3" cy="586.6" r="3.4"/><circle cx="1508.0" cy="584.8" r="3.4"/><circle cx="1510.3" cy="586.3" r="3.4"/><circle cx="1523.7" cy="590.8" r="3.4"/><circle cx="1469.1" cy="593.5" r="3.4"/><circle cx="1496.8" cy="603.1" r="3.4"/><circle cx="1504.3" cy="605.0" r="3.4"/><circle cx="1514.7" cy="607.7" r="3.4"/><circle cx="1518.8" cy="605.8" r="3.4"/><circle cx="1526.2" cy="609.1" r="3.4"/><circle cx="1457.9" cy="611.3" r="3.4"/><circle cx="1462.1" cy="612.0" r="3.4"/><circle cx="1505.3" cy="611.3" r="3.4"/><circle cx="1527.7" cy="618.2" r="3.4"/><circle cx="1503.2" cy="622.2" r="3.4"/><circle cx="1475.9" cy="627.9" r="3.4"/><circle cx="1508.8" cy="629.2" r="3.4"/><circle cx="1492.3" cy="647.6" r="3.4"/><circle cx="1509.2" cy="645.8" r="3.4"/><circle cx="1520.7" cy="646.4" r="3.4"/><circle cx="1468.0" cy="557.0" r="3.4"/><circle cx="1468.8" cy="557.4" r="3.4"/><circle cx="1509.9" cy="575.7" r="3.4"/><circle cx="1510.7" cy="576.1" r="3.4"/><circle cx="1486.7" cy="663.4" r="3.4"/><circle cx="1507.2" cy="662.1" r="3.4"/><circle cx="1516.6" cy="663.2" r="3.4"/><circle cx="1529.1" cy="676.0" r="3.4"/><circle cx="1537.5" cy="678.0" r="3.4"/><circle cx="1485.7" cy="680.8" r="3.4"/><circle cx="1459.9" cy="684.7" r="3.4"/>
</g>
<g fill="#fc8d62" fill-opacity="0.5" stroke="#fc8d62" stroke-opacity="0.45" stroke-width="0.7">
<circle cx="1651.3" cy="222.8" r="3.4"/><circle cx="1700.3" cy="227.1" r="3.4"/><circle cx="1666.0" cy="293.5" r="3.4"/><circle cx="1630.4" cy="358.8" r="3.4"/><circle cx="1643.9" cy="367.9" r="3.4"/><circle cx="1626.4" cy="385.8" r="3.4"/><circle cx="1629.4" cy="385.8" r="3.4"/><circle cx="1696.9" cy="401.4" r="3.4"/><circle cx="1682.4" cy="413.0" r="3.4"/><circle cx="1667.5" cy="426.5" r="3.4"/><circle cx="1692.9" cy="426.5" r="3.4"/><circle cx="1644.6" cy="438.4" r="3.4"/><circle cx="1652.4" cy="440.2" r="3.4"/><circle cx="1696.2" cy="438.4" r="3.4"/><circle cx="1680.5" cy="442.9" r="3.4"/><circle cx="1695.1" cy="445.9" r="3.4"/><circle cx="1622.2" cy="450.7" r="3.4"/><circle cx="1646.6" cy="449.6" r="3.4"/><circle cx="1663.0" cy="450.4" r="3.4"/><circle cx="1664.0" cy="461.9" r="3.4"/><circle cx="1674.5" cy="475.9" r="3.4"/><circle cx="1681.2" cy="476.4" r="3.4"/><circle cx="1693.2" cy="478.3" r="3.4"/><circle cx="1679.3" cy="480.9" r="3.4"/><circle cx="1668.1" cy="483.1" r="3.4"/><circle cx="1652.8" cy="483.9" r="3.4"/><circle cx="1652.1" cy="491.0" r="3.4"/><circle cx="1669.0" cy="490.3" r="3.4"/><circle cx="1690.5" cy="492.8" r="3.4"/><circle cx="1697.2" cy="488.3" r="3.4"/><circle cx="1698.0" cy="494.0" r="3.4"/><circle cx="1647.6" cy="497.0" r="3.4"/><circle cx="1630.4" cy="498.4" r="3.4"/><circle cx="1631.9" cy="503.3" r="3.4"/><circle cx="1669.6" cy="501.1" r="3.4"/><circle cx="1688.0" cy="501.1" r="3.4"/><circle cx="1690.9" cy="502.5" r="3.4"/><circle cx="1652.8" cy="504.5" r="3.4"/><circle cx="1631.5" cy="510.8" r="3.4"/><circle cx="1640.1" cy="513.0" r="3.4"/><circle cx="1635.3" cy="515.7" r="3.4"/><circle cx="1667.5" cy="514.2" r="3.4"/><circle cx="1672.7" cy="517.5" r="3.4"/><circle cx="1687.7" cy="513.3" r="3.4"/><circle cx="1699.2" cy="516.7" r="3.4"/><circle cx="1686.9" cy="520.5" r="3.4"/><circle cx="1630.7" cy="522.3" r="3.4"/><circle cx="1619.9" cy="530.2" r="3.4"/><circle cx="1654.3" cy="525.7" r="3.4"/><circle cx="1662.8" cy="524.2" r="3.4"/><circle cx="1658.1" cy="531.7" r="3.4"/><circle cx="1656.6" cy="529.5" r="3.4"/><circle cx="1661.1" cy="533.2" r="3.4"/><circle cx="1665.8" cy="530.5" r="3.4"/><circle cx="1648.3" cy="534.7" r="3.4"/><circle cx="1649.8" cy="537.7" r="3.4"/><circle cx="1651.3" cy="540.4" r="3.4"/><circle cx="1645.1" cy="542.6" r="3.4"/><circle cx="1673.8" cy="534.2" r="3.4"/><circle cx="1672.3" cy="537.7" r="3.4"/><circle cx="1661.8" cy="543.2" r="3.4"/><circle cx="1648.8" cy="547.8" r="3.4"/><circle cx="1679.7" cy="549.6" r="3.4"/><circle cx="1652.8" cy="553.4" r="3.4"/><circle cx="1669.3" cy="554.1" r="3.4"/><circle cx="1673.0" cy="552.9" r="3.4"/><circle cx="1683.9" cy="553.7" r="3.4"/><circle cx="1649.4" cy="495.6" r="3.4"/><circle cx="1650.2" cy="496.0" r="3.4"/><circle cx="1639.8" cy="559.5" r="3.4"/><circle cx="1670.7" cy="560.0" r="3.4"/><circle cx="1687.5" cy="560.5" r="3.4"/><circle cx="1678.6" cy="565.7" r="3.4"/><circle cx="1652.7" cy="569.4" r="3.4"/><circle cx="1634.7" cy="575.5" r="3.4"/><circle cx="1681.3" cy="573.8" r="3.4"/><circle cx="1692.9" cy="583.0" r="3.4"/><circle cx="1663.3" cy="583.8" r="3.4"/><circle cx="1646.0" cy="585.3" r="3.4"/><circle cx="1627.4" cy="587.4" r="3.4"/><circle cx="1645.6" cy="592.7" r="3.4"/><circle cx="1648.6" cy="606.4" r="3.4"/><circle cx="1667.1" cy="608.9" r="3.4"/><circle cx="1622.1" cy="612.6" r="3.4"/><circle cx="1620.9" cy="616.0" r="3.4"/><circle cx="1680.9" cy="613.5" r="3.4"/><circle cx="1686.2" cy="614.4" r="3.4"/><circle cx="1693.6" cy="616.2" r="3.4"/><circle cx="1693.3" cy="621.8" r="3.4"/><circle cx="1637.1" cy="628.5" r="3.4"/><circle cx="1619.1" cy="637.2" r="3.4"/><circle cx="1624.8" cy="638.6" r="3.4"/><circle cx="1635.0" cy="637.2" r="3.4"/><circle cx="1638.2" cy="640.3" r="3.4"/><circle cx="1649.7" cy="649.7" r="3.4"/><circle cx="1661.1" cy="646.5" r="3.4"/><circle cx="1661.1" cy="651.5" r="3.4"/><circle cx="1671.2" cy="664.7" r="3.4"/><circle cx="1690.6" cy="664.5" r="3.4"/>
</g>
<g fill="#8da0cb" fill-opacity="0.5" stroke="#8da0cb" stroke-opacity="0.45" stroke-width="0.7">
<circle cx="1861.0" cy="95.0" r="3.4"/><circle cx="1818.5" cy="141.0" r="3.4"/><circle cx="1798.4" cy="195.1" r="3.4"/><circle cx="1847.0" cy="195.0" r="3.4"/><circle cx="1803.8" cy="236.0" r="3.4"/><circle cx="1848.2" cy="305.0" r="3.4"/><circle cx="1842.7" cy="314.4" r="3.4"/><circle cx="1791.5" cy="355.3" r="3.4"/><circle cx="1787.1" cy="361.5" r="3.4"/><circle cx="1847.7" cy="370.7" r="3.4"/><circle cx="1860.9" cy="372.1" r="3.4"/><circle cx="1849.4" cy="383.0" r="3.4"/><circle cx="1811.5" cy="390.3" r="3.4"/><circle cx="1795.6" cy="394.2" r="3.4"/><circle cx="1816.8" cy="400.3" r="3.4"/><circle cx="1782.4" cy="403.3" r="3.4"/><circle cx="1820.7" cy="409.7" r="3.4"/><circle cx="1828.3" cy="410.1" r="3.4"/><circle cx="1850.0" cy="409.2" r="3.4"/><circle cx="1811.5" cy="419.8" r="3.4"/><circle cx="1786.7" cy="424.2" r="3.4"/><circle cx="1784.3" cy="442.2" r="3.4"/><circle cx="1818.9" cy="441.9" r="3.4"/><circle cx="1834.1" cy="440.0" r="3.4"/><circle cx="1838.1" cy="446.2" r="3.4"/><circle cx="1840.4" cy="450.8" r="3.4"/><circle cx="1853.2" cy="445.7" r="3.4"/><circle cx="1852.4" cy="457.1" r="3.4"/><circle cx="1795.3" cy="458.0" r="3.4"/><circle cx="1794.4" cy="463.8" r="3.4"/><circle cx="1850.3" cy="463.8" r="3.4"/><circle cx="1854.1" cy="467.6" r="3.4"/><circle cx="1802.0" cy="468.9" r="3.4"/><circle cx="1834.1" cy="472.9" r="3.4"/><circle cx="1804.8" cy="476.1" r="3.4"/><circle cx="1784.3" cy="492.3" r="3.4"/><circle cx="1797.6" cy="489.4" r="3.4"/><circle cx="1804.3" cy="494.2" r="3.4"/><circle cx="1817.6" cy="492.3" r="3.4"/><circle cx="1826.1" cy="490.4" r="3.4"/><circle cx="1842.7" cy="490.8" r="3.4"/><circle cx="1845.6" cy="494.6" r="3.4"/><circle cx="1854.3" cy="491.4" r="3.4"/><circle cx="1797.2" cy="501.4" r="3.4"/><circle cx="1794.4" cy="505.1" r="3.4"/><circle cx="1857.0" cy="503.7" r="3.4"/><circle cx="1782.8" cy="512.3" r="3.4"/><circle cx="1812.8" cy="527.1" r="3.4"/><circle cx="1822.7" cy="527.9" r="3.4"/><circle cx="1830.3" cy="529.0" r="3.4"/><circle cx="1833.2" cy="535.1" r="3.4"/><circle cx="1813.2" cy="536.5" r="3.4"/><circle cx="1818.5" cy="538.9" r="3.4"/><circle cx="1803.9" cy="536.4" r="3.4"/><circle cx="1804.7" cy="536.8" r="3.4"/><circle cx="1801.0" cy="564.6" r="3.4"/><circle cx="1812.5" cy="573.4" r="3.4"/><circle cx="1848.1" cy="572.5" r="3.4"/><circle cx="1800.5" cy="578.7" r="3.4"/><circle cx="1808.1" cy="581.2" r="3.4"/><circle cx="1809.8" cy="584.0" r="3.4"/><circle cx="1792.0" cy="598.1" r="3.4"/><circle cx="1836.6" cy="620.8" r="3.4"/><circle cx="1847.0" cy="644.1" r="3.4"/><circle cx="1818.3" cy="651.3" r="3.4"/><circle cx="1797.3" cy="679.2" r="3.4"/>
</g>
<g stroke="#4fb695" stroke-width="3.0" fill="none">
<path d="M1497.5 359.7V483.5M1497.5 566.2V684.1M1456.8 515.8H1538.2"/>
<rect x="1456.8" y="483.5" width="81.4" height="82.70"/>
</g>
<g stroke="#f98050" stroke-width="3.0" fill="none">
<path d="M1660.0 359.5V484.6M1660.0 568.6V664.7M1619.3 522.7H1700.7"/>
<rect x="1619.3" y="484.6" width="81.4" height="84.00"/>
</g>
<g stroke="#7a90c6" stroke-width="3.0" fill="none">
<path d="M1822.65 228.7V408.55M1822.65 528.85V679.0M1781.95 471.4H1863.3500000000001"/>
<rect x="1781.95" y="408.55" width="81.4" height="120.30"/>
</g>
<g stroke="#000" stroke-width="3.4" fill="none">
<path d="M1375.8 86.8V699.4H1944.6M1369.0 86.8H1375.8M1369.0 144.0H1375.8M1369.0 201.2H1375.8M1369.0 258.4H1375.8M1369.0 315.6H1375.8M1369.0 372.8H1375.8M1369.0 430H1375.8M1369.0 487.2H1375.8M1369.0 544.4H1375.8M1369.0 601.6H1375.8M1369.0 658.8H1375.8M1497.5 699.4V705.9M1660.0 699.4V705.9M1822.65 699.4V705.9"/>
</g>
<g fill="#000">
<text transform="translate(1332.08 93.70) scale(1.0000 1.04)" font-size="19.8" font-weight="bold" stroke="#000" stroke-width="0.3">260</text>
<text transform="translate(1332.08 150.90) scale(1.0000 1.04)" font-size="19.8" font-weight="bold" stroke="#000" stroke-width="0.3">240</text>
<text transform="translate(1332.08 208.10) scale(1.0000 1.04)" font-size="19.8" font-weight="bold" stroke="#000" stroke-width="0.3">220</text>
<text transform="translate(1332.08 265.30) scale(1.0000 1.04)" font-size="19.8" font-weight="bold" stroke="#000" stroke-width="0.3">200</text>
<text transform="translate(1332.08 322.50) scale(1.0000 1.04)" font-size="19.8" font-weight="bold" stroke="#000" stroke-width="0.3">180</text>
<text transform="translate(1332.08 379.70) scale(1.0000 1.04)" font-size="19.8" font-weight="bold" stroke="#000" stroke-width="0.3">160</text>
<text transform="translate(1332.08 436.90) scale(1.0000 1.04)" font-size="19.8" font-weight="bold" stroke="#000" stroke-width="0.3">140</text>
<text transform="translate(1332.08 494.10) scale(1.0000 1.04)" font-size="19.8" font-weight="bold" stroke="#000" stroke-width="0.3">120</text>
<text transform="translate(1332.08 551.30) scale(1.0000 1.04)" font-size="19.8" font-weight="bold" stroke="#000" stroke-width="0.3">100</text>
<text transform="translate(1343.09 608.50) scale(1.0000 1.04)" font-size="19.8" font-weight="bold" stroke="#000" stroke-width="0.3">80</text>
<text transform="translate(1343.09 665.70) scale(1.0000 1.04)" font-size="19.8" font-weight="bold" stroke="#000" stroke-width="0.3">60</text>
<text transform="translate(1470.77 730.90) scale(1.0000 1.04)" font-size="26.0" font-weight="bold" stroke="#000" stroke-width="0.3">SAP</text>
<text transform="translate(1632.55 730.90) scale(1.0000 1.04)" font-size="26.0" font-weight="bold" stroke="#000" stroke-width="0.3">UAP</text>
<text transform="translate(1798.82 730.90) scale(1.0000 1.04)" font-size="26.0" font-weight="bold" stroke="#000" stroke-width="0.3">AMI</text>
<text transform="translate(1648.93 79.50) scale(1.0099 1.04)" font-size="26.2" font-weight="bold" stroke="#000" stroke-width="0.3">M</text>
<text transform="translate(1675.96 80.80) scale(0.9819 1.0)" font-size="29.5" font-weight="bold" stroke="#000" stroke-width="0.3">(g)</text>
<text transform="translate(1280.15 38.70) scale(1.0380 1.03)" font-size="49.0" font-weight="normal">(C)</text>
</g>
<g stroke="#000" stroke-width="3.4" fill="none">
<path d="M1660.0 196.79999999999998V188.2H1822.65V196.79999999999998M1497.5 223.9V215.3H1822.65V223.9" stroke-linejoin="miter"/>
</g>
<g fill="#000">
<text transform="translate(1730.03 186.90) scale(1.0000 1.0)" font-size="19.1" font-weight="bold">***</text>
<text transform="translate(1651.33 214.00) scale(1.0000 1.0)" font-size="19.1" font-weight="bold">***</text>
</g>
</g>
</svg>
</body></html>
